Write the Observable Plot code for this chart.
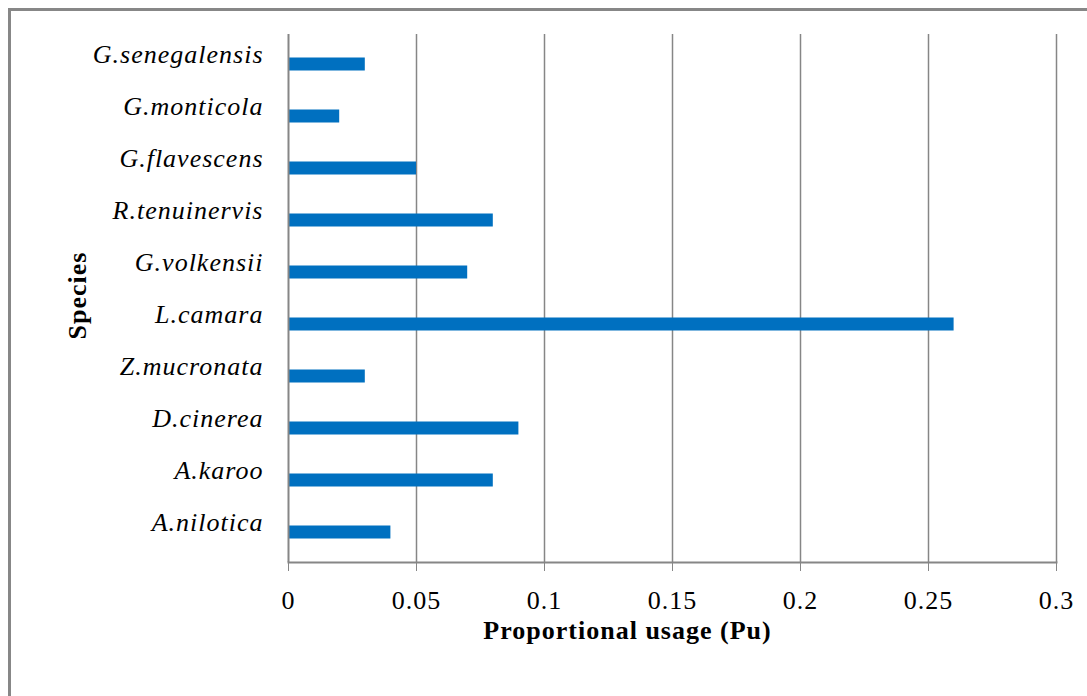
<!DOCTYPE html>
<html>
<head>
<meta charset="utf-8">
<script src="https://cdn.jsdelivr.net/npm/d3@7"></script>
<script src="https://cdn.jsdelivr.net/npm/@observablehq/plot@0.6"></script>
<style>
  html, body { margin: 0; padding: 0; background: #fff; overflow: hidden; }
  #wrap { position: relative; width: 1087px; height: 696px; }
  #frame { position: absolute; left: 8px; top: 8px; width: 1200px; height: 800px;
           border-left: 3px solid #878787; border-top: 3px solid #878787; pointer-events: none; }
  #chart svg { display: block; }
</style>
</head>
<body>
<div id="wrap"><div id="chart"></div><div id="frame"></div></div>
<script>
const species = ["A.nilotica","A.karoo","D.cinerea","Z.mucronata","L.camara","G.volkensii","R.tenuinervis","G.flavescens","G.monticola","G.senegalensis"];
const usage = [0.04, 0.08, 0.09, 0.03, 0.26, 0.07, 0.08, 0.05, 0.02, 0.03];
const xTicks = [0, 0.05, 0.1, 0.15, 0.2, 0.25, 0.3];
const xTitle = "Proportional usage (Pu)";
const yTitle = "Species";

const rows = species.map((s, i) => ({species: s, value: usage[i]}));
const grey = "#868686";

const chart = Plot.plot({
  width: 1087,
  height: 696,
  marginLeft: 288,
  marginRight: 31,
  marginTop: 34,
  marginBottom: 134,
  style: {fontFamily: "'Liberation Serif', 'Times New Roman', serif", background: "#fff", letterSpacing: "1px", color: "#000"},
  x: {domain: [0, 0.3]},
  y: {domain: species.slice().reverse(), padding: 0},
  marks: [
    Plot.gridX(xTicks.slice(1), {stroke: grey, strokeOpacity: 1, strokeWidth: 1.5}),
    Plot.barX(rows, {x: "value", y: "species", fill: "#0070C0", insetTop: 19.5, insetBottom: 19.5}),
    Plot.ruleX([0], {stroke: grey, strokeWidth: 2}),
    Plot.frame({anchor: "bottom", stroke: grey, strokeWidth: 2}),
    Plot.axisX({ticks: xTicks, tickFormat: d => String(d), tickSize: 9, tickPadding: 19, stroke: grey, fill: "#000", fontSize: 26, label: null}),
    Plot.axisY({tickSize: 0, tickPadding: 25, fontSize: 26, fontStyle: "italic", fill: "#000", dy: -10, label: null}),
    Plot.text([xTitle], {frameAnchor: "bottom", textAnchor: "middle", lineAnchor: "middle", dx: -45, dy: 68, fontSize: 26, fontWeight: "bold", fill: "#000"}),
    Plot.text([yTitle], {frameAnchor: "left", textAnchor: "middle", lineAnchor: "middle", dx: -211, dy: -3, rotate: -90, fontSize: 26, fontWeight: "bold", fill: "#000"})
  ]
});
document.getElementById("chart").appendChild(chart);
</script>
</body>
</html>
